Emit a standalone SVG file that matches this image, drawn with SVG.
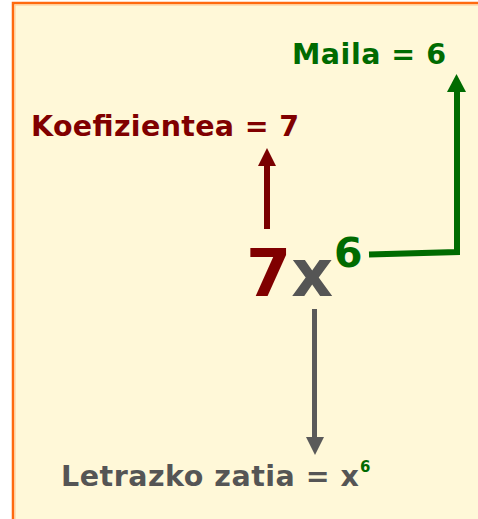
<svg xmlns="http://www.w3.org/2000/svg" width="478" height="519" viewBox="0 0 478 519">
<style>
text{font-family:"DejaVu Sans","Verdana",sans-serif;font-weight:bold}
.red{fill:#800000}
.green{fill:#006b00}
.gray{fill:#555555}
.lbl{font-size:28.5px}
</style>
<rect x="0" y="0" width="478" height="519" fill="#ffffff"/>
<rect x="13" y="3" width="480" height="530" fill="#fff8d8" stroke="#ff6a10" stroke-width="2.5"/>
<line x1="15" y1="5" x2="15" y2="519" stroke="#ffc890" stroke-width="1"/>
<line x1="15" y1="5" x2="478" y2="5" stroke="#ffc890" stroke-width="1"/>
<g id="connectors">
<line x1="267" y1="229" x2="267" y2="164" stroke="#7a0000" stroke-width="6"/>
<polygon points="258,166 276,166 267,148" fill="#7a0000"/>
<polyline points="369,254.5 457,252 457,90" fill="none" stroke="#006b00" stroke-width="6"/>
<polygon points="447,92 466,92 456.5,74" fill="#006b00"/>
<line x1="314.5" y1="309" x2="314.5" y2="440" stroke="#5a5a5a" stroke-width="5"/>
<polygon points="306,437 324,437 315,455" fill="#5a5a5a"/>
</g>
<g id="maila"><text class="lbl green" x="292" y="64" textLength="154" lengthAdjust="spacing">Maila = 6</text></g>
<g id="koefizientea"><text class="lbl red" x="31" y="136" textLength="268" lengthAdjust="spacing">Koefizientea = 7</text></g>
<g id="monomial">
<text x="246" y="296" font-size="65"><tspan class="red">7</tspan><tspan class="gray">x</tspan></text>
<text class="green" x="334" y="267" font-size="41">6</text>
</g>
<g id="letrazko">
<text class="lbl gray" x="61" y="486" textLength="298" lengthAdjust="spacing">Letrazko zatia = x</text>
<text class="green" x="360" y="472" font-size="15">6</text>
</g>
</svg>
